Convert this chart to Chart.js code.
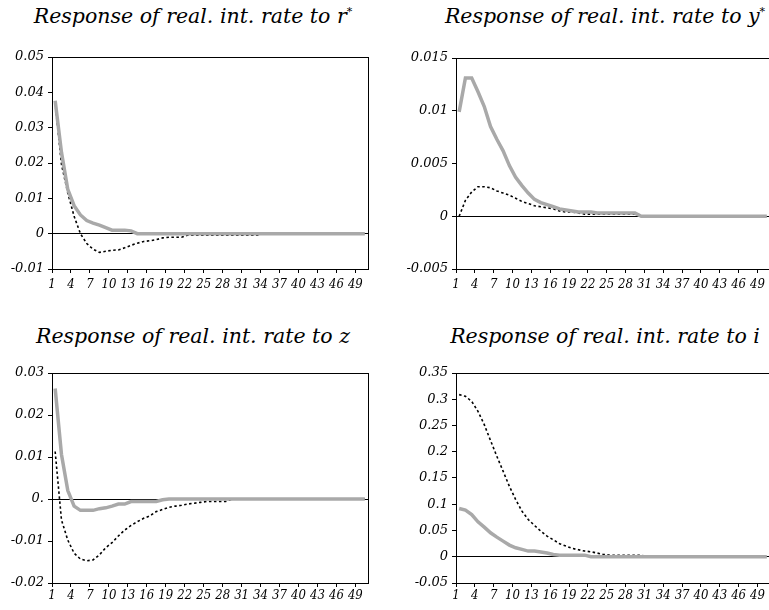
<!DOCTYPE html>
<html>
<head>
<meta charset="utf-8">
<script src="https://cdn.jsdelivr.net/npm/chart.js@4/dist/chart.umd.min.js"></script>
<style>
  html, body { margin: 0; padding: 0; background: #fff; overflow: hidden; width: 769px; height: 610px; }
  .panel { position: absolute; }
  .title { position: absolute; width: 400px; text-align: center; font: italic 20.5px "DejaVu Serif", serif; color: #000; white-space: nowrap; }
  .title sup { font-size: 11px; vertical-align: 8px; line-height: 0; }
</style>
</head>
<body>
<div class="title" style="left:-7px; top:4px">Response of real. int. rate to r<sup>*</sup></div>
<div class="title" style="left:405px; top:4px">Response of real. int. rate to y<sup>*</sup></div>
<div class="title" style="left:-7px; top:324px">Response of real. int. rate to z</div>
<div class="title" style="left:405px; top:324px">Response of real. int. rate to i</div>
<canvas id="c1" class="panel" width="385" height="300" style="left:0; top:0"></canvas>
<canvas id="c2" class="panel" width="385" height="300" style="left:385px; top:0"></canvas>
<canvas id="c3" class="panel" width="385" height="290" style="left:0; top:320px"></canvas>
<canvas id="c4" class="panel" width="385" height="290" style="left:385px; top:320px"></canvas>
<script>
const periods = [1, 2, 3, 4, 5, 6, 7, 8, 9, 10, 11, 12, 13, 14, 15, 16, 17, 18, 19, 20,
  21, 22, 23, 24, 25, 26, 27, 28, 29, 30, 31, 32, 33, 34, 35, 36, 37, 38, 39, 40,
  41, 42, 43, 44, 45, 46, 47, 48, 49, 50];
const xTickLabels = ['1', '4', '7', '10', '13', '16', '19', '22', '25', '28', '31', '34', '37', '40', '43', '46', '49'];

// response to r*
const greyR = [0.0376, 0.023, 0.0125, 0.0079, 0.0053, 0.0037, 0.003, 0.0024, 0.0017, 0.001,
  0.001, 0.001, 0.0008, 0, 0, 0, 0, 0, 0, 0, 0, 0, 0, 0, 0, 0, 0, 0, 0, 0,
  0, 0, 0, 0, 0, 0, 0, 0, 0, 0, 0, 0, 0, 0, 0, 0, 0, 0, 0, 0];
const dotR = [0.037, 0.0196, 0.0115, 0.0049, 0, -0.0028, -0.0044, -0.0053, -0.005, -0.0047,
  -0.0046, -0.004, -0.0033, -0.0027, -0.0022, -0.002, -0.0017, -0.0012, -0.001, -0.001,
  -0.001, -0.0004, -0.0004, -0.0004, -0.0004, -0.0004, -0.0004, -0.0004, -0.0004, -0.0004,
  -0.0004, -0.0004, -0.0004, 0, 0, 0, 0, 0, 0, 0, 0, 0, 0, 0, 0, 0, 0, 0, 0, 0];
const yTicksR = [-0.01, 0, 0.01, 0.02, 0.03, 0.04, 0.05];
const yLabelsR = ['-0.01', '0', '0.01', '0.02', '0.03', '0.04', '0.05'];

// response to y*
const greyY = [0.0099, 0.0131, 0.0131, 0.0118, 0.0104, 0.0085, 0.0073, 0.0062, 0.0048, 0.0037,
  0.0029, 0.0022, 0.0016, 0.0013, 0.0011, 0.0009, 0.0007, 0.0006, 0.0005, 0.0004,
  0.0004, 0.0004, 0.0003, 0.0003, 0.0003, 0.0003, 0.0003, 0.0003, 0.0003, 0,
  0, 0, 0, 0, 0, 0, 0, 0, 0, 0, 0, 0, 0, 0, 0, 0, 0, 0, 0, 0];
const dotY = [0, 0.0015, 0.0023, 0.0028, 0.0028, 0.0027, 0.0024, 0.0022, 0.002, 0.0017,
  0.0014, 0.0012, 0.001, 0.0009, 0.0008, 0.0007, 0.0005, 0.0004, 0.0004, 0.0003,
  0.0002, 0.0002, 0.0002, 0.0002, 0.0002, 0.0002, 0.0002, 0.0002, 0.0002, 0,
  0, 0, 0, 0, 0, 0, 0, 0, 0, 0, 0, 0, 0, 0, 0, 0, 0, 0, 0, 0];
const yTicksY = [-0.005, 0, 0.005, 0.01, 0.015];
const yLabelsY = ['-0.005', '0', '0.005', '0.01', '0.015'];

// response to z
const greyZ = [0.0263, 0.0106, 0.002, -0.0017, -0.0027, -0.0027, -0.0027, -0.0023, -0.0021, -0.0017,
  -0.0012, -0.0012, -0.0006, -0.0006, -0.0006, -0.0006, -0.0006, -0.0002, 0, 0,
  0, 0, 0, 0, 0, 0, 0, 0, 0, 0, 0, 0, 0, 0, 0, 0, 0, 0, 0, 0,
  0, 0, 0, 0, 0, 0, 0, 0, 0, 0];
const dotZ = [0.0113, -0.005, -0.0098, -0.0129, -0.0143, -0.0147, -0.0145, -0.0133, -0.0116, -0.0104,
  -0.0088, -0.0074, -0.0063, -0.0054, -0.0046, -0.004, -0.003, -0.0025, -0.002, -0.0017,
  -0.0015, -0.0012, -0.001, -0.0008, -0.0006, -0.0006, -0.0006, -0.0006, 0, 0,
  0, 0, 0, 0, 0, 0, 0, 0, 0, 0, 0, 0, 0, 0, 0, 0, 0, 0, 0, 0];
const yTicksZ = [-0.02, -0.01, 0, 0.01, 0.02, 0.03];
const yLabelsZ = ['-0.02', '-0.01', '0.', '0.01', '0.02', '0.03'];

// response to i
const greyI = [0.092, 0.089, 0.0805, 0.0666, 0.0564, 0.0456, 0.0374, 0.0298, 0.0222, 0.0171,
  0.014, 0.0108, 0.0108, 0.0089, 0.007, 0.0044, 0.003, 0.003, 0.003, 0.003,
  0.003, 0, 0, 0, 0, 0, 0, 0, 0, 0, 0, 0, 0, 0, 0, 0, 0, 0, 0, 0,
  0, 0, 0, 0, 0, 0, 0, 0, 0, 0];
const dotI = [0.3088, 0.3056, 0.296, 0.277, 0.2517, 0.2213, 0.1915, 0.163, 0.134, 0.109,
  0.0869, 0.071, 0.0596, 0.0488, 0.0393, 0.0323, 0.0247, 0.0203, 0.0159, 0.0133,
  0.0108, 0.0095, 0.007, 0.0044, 0.003, 0.003, 0.003, 0.003, 0.003, 0.003,
  0, 0, 0, 0, 0, 0, 0, 0, 0, 0, 0, 0, 0, 0, 0, 0, 0, 0, 0, 0];
const yTicksI = [-0.05, 0, 0.05, 0.1, 0.15, 0.2, 0.25, 0.3, 0.35];
const yLabelsI = ['-0.05', '0', '0.05', '0.1', '0.15', '0.2', '0.25', '0.3', '0.35'];

const yFont = { family: "'DejaVu Serif'", style: 'italic', size: 13 };
const xFont = { family: "'DejaVu Serif Condensed', 'DejaVu Serif'", style: 'italic', size: 13 };

// box around the plot area
const frame = {
  id: 'frame',
  afterDraw(chart) {
    const a = chart.chartArea, ctx = chart.ctx;
    ctx.save();
    ctx.strokeStyle = '#000';
    ctx.lineWidth = 1;
    ctx.strokeRect(Math.round(a.left) + 0.5, Math.round(a.top) + 0.5, Math.round(a.right - a.left), Math.round(a.bottom - a.top));
    ctx.restore();
  }
};

const makePanel = (id, grey, dotted, yTicks, yLabels, lay) => {
  new Chart(document.getElementById(id), {
    type: 'line',
    data: {
      labels: periods,
      datasets: [
        { data: grey, borderColor: '#a9a9a9', borderWidth: 3.5, pointRadius: 0, tension: 0 },
        { data: dotted, borderColor: '#000', borderWidth: 1.6, borderDash: [2.5, 2.5], pointRadius: 0, tension: 0 }
      ]
    },
    options: {
      responsive: false,
      animation: false,
      devicePixelRatio: 1,
      layout: { padding: { top: lay.top, right: lay.right, left: 0, bottom: 0 } },
      plugins: { legend: { display: false }, tooltip: { enabled: false } },
      scales: {
        x: {
          type: 'linear',
          min: 0.5,
          max: 50.5,
          afterBuildTicks: s => { s.ticks = xTickLabels.map(l => ({ value: Number(l) - 0.5 })); },
          afterFit: s => { s.height = lay.xh; },
          ticks: {
            font: xFont, color: '#000', padding: lay.xpad, maxRotation: 0, autoSkip: false,
            callback: (v, i) => xTickLabels[i]
          },
          grid: { drawOnChartArea: false, tickLength: 4, tickColor: '#000' },
          border: { display: true, color: '#000' }
        },
        y: {
          min: yTicks[0],
          max: yTicks[yTicks.length - 1],
          afterBuildTicks: s => { s.ticks = yTicks.map(v => ({ value: v })); },
          afterFit: s => { s.width = lay.yw; },
          ticks: {
            font: yFont, color: '#000', padding: 4,
            callback: (v, i) => yLabels[i]
          },
          grid: {
            color: c => (c.tick && c.tick.value === 0 ? '#000' : 'rgba(0,0,0,0)'),
            tickColor: '#000',
            tickLength: 4
          },
          border: { display: true, color: '#000' }
        }
      }
    },
    plugins: [frame]
  });
};

makePanel('c1', greyR, dotR, yTicksR, yLabelsR, { top: 57, right: 17, yw: 52, xh: 31, xpad: 4 });
makePanel('c2', greyY, dotY, yTicksY, yLabelsY, { top: 58, right: 0, yw: 71, xh: 31, xpad: 4 });
makePanel('c3', greyZ, dotZ, yTicksZ, yLabelsZ, { top: 53, right: 17, yw: 52, xh: 27, xpad: 1 });
makePanel('c4', greyI, dotI, yTicksI, yLabelsI, { top: 53, right: 0, yw: 71, xh: 27, xpad: 1 });
</script>
</body>
</html>
